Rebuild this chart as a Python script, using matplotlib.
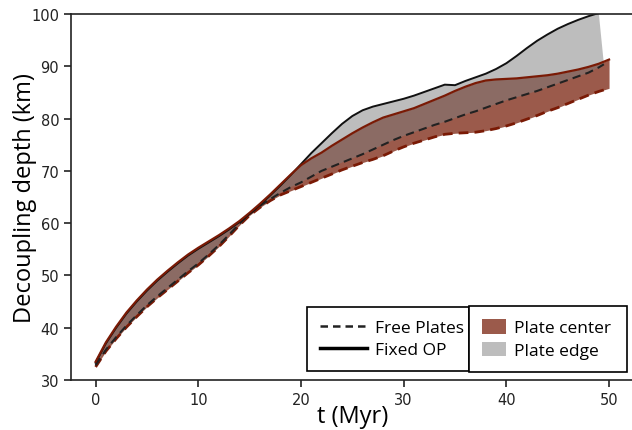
import numpy as np
import matplotlib
matplotlib.use("Agg")
import matplotlib.pyplot as plt
from matplotlib.lines import Line2D
from matplotlib.patches import Patch

# time axis (Myr)
t = np.arange(0, 51)

# fixed overriding plate, plate center (dark red solid)
fixed_center = [33.5, 37.2, 40.2, 42.9, 45.2, 47.3, 49.2, 50.9, 52.5, 54.0,
                55.3, 56.5, 57.7, 59.0, 60.4, 62.0, 63.7, 65.5, 67.4, 69.3,
                71.1, 72.4, 73.5, 74.8, 76.0, 77.2, 78.3, 79.3, 80.2, 80.8,
                81.4, 82.0, 82.8, 83.6, 84.4, 85.3, 86.1, 86.8, 87.3, 87.5,
                87.6, 87.7, 87.9, 88.1, 88.3, 88.6, 89.0, 89.4, 89.9, 90.5,
                91.3]

# fixed overriding plate, plate edge (black solid), ends at t=49
t_fixed_edge = np.arange(0, 50)
fixed_edge = [33.3, 37.0, 40.0, 42.7, 45.0, 47.1, 49.0, 50.7, 52.3, 53.8,
              55.1, 56.3, 57.5, 58.8, 60.2, 61.8, 63.5, 65.3, 67.2, 69.2,
              71.3, 73.4, 75.3, 77.2, 79.0, 80.5, 81.6, 82.3, 82.8, 83.3,
              83.8, 84.4, 85.1, 85.8, 86.5, 86.4, 87.2, 87.9, 88.6, 89.5,
              90.6, 92.0, 93.5, 94.9, 96.1, 97.2, 98.1, 98.9, 99.6, 100.2]

# free plates, plate edge (black dashed), ends at t=49.5
t_free_edge = np.append(np.arange(0, 50), 49.5)
free_edge = [32.8, 35.8, 38.2, 40.4, 42.4, 44.3, 46.0, 47.6, 49.2, 50.8,
             52.3, 54.0, 55.8, 57.8, 59.9, 61.8, 63.3, 64.6, 65.8, 66.9,
             67.8, 68.9, 70.0, 70.8, 71.6, 72.4, 73.2, 74.1, 75.0, 75.9,
             76.7, 77.4, 78.1, 78.8, 79.4, 80.1, 80.8, 81.4, 82.1, 82.8,
             83.5, 84.1, 84.7, 85.3, 86.0, 86.7, 87.4, 88.1, 88.8, 89.8,
             90.4]

# free plates, plate center (dark red dashed)
free_center = [32.5, 35.5, 37.9, 40.1, 42.1, 44.0, 45.7, 47.3, 48.9, 50.5,
               52.0, 53.7, 55.5, 57.5, 59.6, 61.5, 63.0, 64.3, 65.4, 66.2,
               67.0, 67.8, 68.6, 69.4, 70.2, 70.9, 71.6, 72.2, 72.9, 73.8,
               74.6, 75.3, 75.9, 76.5, 77.0, 77.2, 77.3, 77.4, 77.7, 78.1,
               78.6, 79.2, 79.9, 80.6, 81.4, 82.1, 82.9, 83.7, 84.5, 85.2,
               85.8]

brown = "#9b5a4b"
grey = "#7d7d7d"
dark_red = "#7a1a05"
label_font = ["Open Sans", "DejaVu Sans"]

fig = plt.figure(figsize=(6.32, 4.31), dpi=100)
ax = fig.add_axes([0.1123, 0.116, 0.892, 0.849])

# bands
ax.fill_between(t, free_center, fixed_center, color=brown, lw=0)
poly_x = np.concatenate([t_fixed_edge, t_free_edge[::-1]])
poly_y = np.concatenate([fixed_edge, free_edge[::-1]])
ax.fill(poly_x, poly_y, color=grey, alpha=0.5, lw=0)

# lines
ax.plot(t, free_center, color=dark_red, lw=2, ls=(0, (3.5, 2.2)))
ax.plot(t_free_edge, free_edge, color="#222222", lw=1.5, ls=(0, (4, 2.5)))
ax.plot(t_fixed_edge, fixed_edge, color="#111111", lw=1.4)
ax.plot(t, fixed_center, color=dark_red, lw=1.6)

ax.set_xlim(-2.4, 52.5)
ax.set_ylim(30, 100)
ax.set_xticks(range(0, 51, 10))
ax.set_yticks(range(30, 101, 10))
ax.spines["right"].set_visible(False)
for s in ["top", "left", "bottom"]:
    ax.spines[s].set_linewidth(1.2)
    ax.spines[s].set_color("#222222")
ax.tick_params(labelsize=10.5, length=5, width=1.2, colors="#222222")

ax.set_xlabel("t (Myr)", fontsize=17, family=label_font, labelpad=-2)
ax.set_ylabel("Decoupling depth (km)", fontsize=17, family=label_font, labelpad=-4)

# two boxed legends side by side
leg_bottom = 1 - 373 / 431
leg_h = 66 / 431
h1 = [Line2D([], [], color="#222222", lw=1.8, ls=(0, (3, 2))),
      Line2D([], [], color="black", lw=2.5)]
leg1 = ax.legend(h1, ["Free Plates", "Fixed OP"], loc="center left",
                 bbox_to_anchor=(307 / 632, leg_bottom, 162 / 632, leg_h),
                 bbox_transform=fig.transFigure, mode="expand",
                 prop={"family": label_font, "size": 12.5}, fancybox=False,
                 edgecolor="black", framealpha=1, borderaxespad=0,
                 handlelength=2.7, handletextpad=0.45, labelspacing=0.3,
                 borderpad=0.75)
leg1.get_frame().set_linewidth(1.2)
ax.add_artist(leg1)

h2 = [Patch(facecolor=brown, edgecolor="none"),
      Patch(facecolor="#bdbdbd", edgecolor="none")]
leg2 = ax.legend(h2, ["Plate center", "Plate edge"], loc="center left",
                 bbox_to_anchor=(469 / 632, leg_bottom, 158 / 632, leg_h),
                 bbox_transform=fig.transFigure, mode="expand",
                 prop={"family": label_font, "size": 12.5}, fancybox=False,
                 edgecolor="black", framealpha=1, borderaxespad=0,
                 handlelength=1.4, handleheight=0.9, handletextpad=0.45,
                 labelspacing=0.3, borderpad=0.75)
leg2.get_frame().set_linewidth(1.2)

fig.savefig("out.png", dpi=100)
